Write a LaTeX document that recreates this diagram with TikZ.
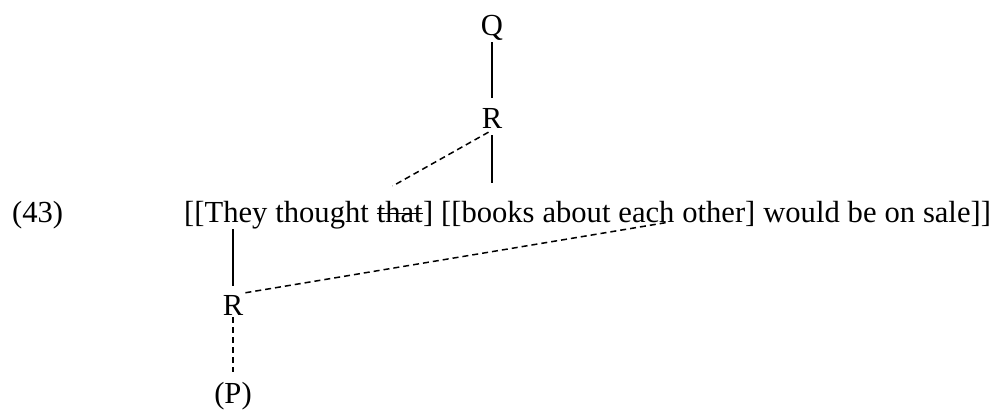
\documentclass[tikz,border=0pt]{standalone}
\usepackage{fontspec}
\setmainfont{Liberation Serif}
\usetikzlibrary{positioning,calc}

\begin{document}
\begin{tikzpicture}[x=1pt,y=-1pt,
  every node/.style={font=\fontsize{30.6}{37}\selectfont},
  word/.style={inner sep=0pt},
  lbl/.style={inner sep=2pt,anchor=base},
  link/.style={line width=1.5pt},
  dlink/.style={line width=1.5pt,dash pattern=on 6pt off 4pt}]
\useasboundingbox (0,0) rectangle (1000,410);
\node[word,anchor=base west] (num) at (12,222.5){(43)};
\node[word,anchor=base west] (w1) at (184,222.5){[[They};
\node[word,base right=7.5pt of w1] (w2){thought};
\node[word,base right=7.5pt of w2] (that){that};
\node[word,base right=0pt of that] (br){]};
\node[word,base right=7.5pt of br] (books){[[books};
\node[word,base right=7.5pt of books] (about){about};
\node[word,base right=7.5pt of about] (each){each};
\node[word,base right=7.5pt of each] (other){other]};
\node[word,base right=7.5pt of other] (would){would};
\node[word,base right=7.5pt of would] (be){be};
\node[word,base right=7.5pt of be] (on){on};
\node[word,base right=7.5pt of on] (sale){sale]]};
\node[lbl] (q) at (492,35){Q};
\node[lbl] (r1) at (492,128){R};
\node[lbl] (r2) at (233,315){R};
\node[lbl] (p) at (233,403){(P)};
\coordinate (thatTop) at ($(that.north west)+(16,-15)$);
\coordinate (booksTop) at ($(r1.south |- books.north)+(0,-18)$);
\coordinate (theyBot) at (r2.north |- w1.south);
\coordinate (eachBot) at ($(each.base east)+(-8,0)$);
% struck-out complementizer
\draw[line width=1pt] ($(that.base west)+(0,-9)$) -- ($(that.base east)+(0,-9)$);
\draw[link,shorten >=8pt] (q) -- (r1);
\draw[link,shorten <=5pt] (r1.south) -- (booksTop);
\draw[dlink,shorten <=4pt] (r1.south) -- (thatTop);
\draw[link,shorten >=7pt] (theyBot) -- (r2.north);
\draw[dlink] (r2.north east) -- (eachBot);
\draw[dlink,shorten >=8pt] (r2) -- (p);
\end{tikzpicture}
\end{document}
